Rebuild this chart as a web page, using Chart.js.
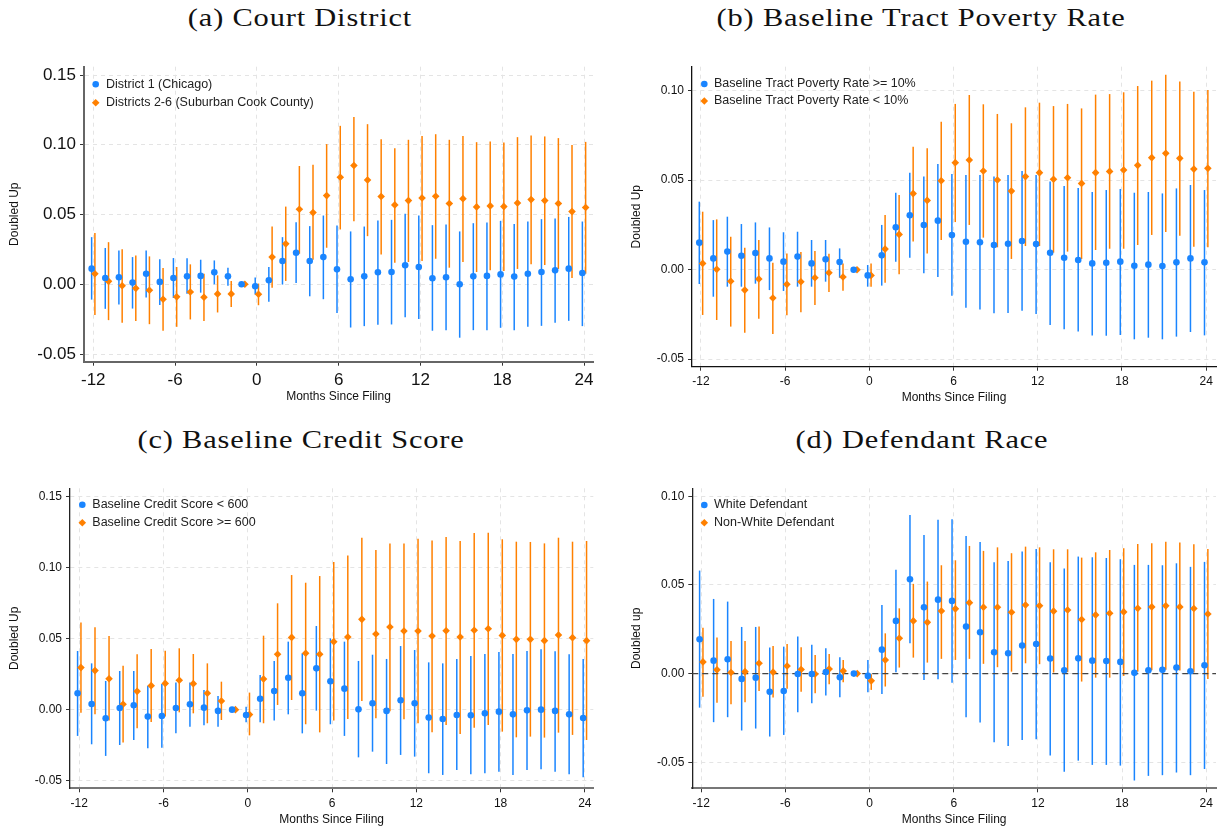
<!DOCTYPE html>
<html>
<head>
<meta charset="utf-8">
<script src="https://cdn.jsdelivr.net/npm/chart.js@4.4.1/dist/chart.umd.min.js"></script>
<style>
    body { margin: 0; background: #fff; width: 1225px; height: 831px; position: relative; overflow: hidden; }
    .panel-title { position: absolute; font-family: 'Liberation Serif', serif; font-size: 26px; line-height: 30px; letter-spacing: 0.7px; color: #111; transform: translateX(-50%) scaleX(1.17); white-space: nowrap; }
    canvas { position: absolute; }
</style>
</head>
<body>
<div class="panel-title" style="left:300px; top:3px;">(a) Court District</div>
<div class="panel-title" style="left:921px; top:3px;">(b) Baseline Tract Poverty Rate</div>
<div class="panel-title" style="left:301px; top:425px;">(c) Baseline Credit Score</div>
<div class="panel-title" style="left:922px; top:425px;">(d) Defendant Race</div>

<canvas id="chartA" style="left:0; top:40px;" width="612" height="370"></canvas>
<canvas id="chartB" style="left:612px; top:40px;" width="613" height="370"></canvas>
<canvas id="chartC" style="left:0; top:460px;" width="612" height="371"></canvas>
<canvas id="chartD" style="left:612px; top:460px;" width="613" height="371"></canvas>

<script>
// Months relative to filing
const months = [-12, -11, -10, -9, -8, -7, -6, -5, -4, -3, -2, -1, 0, 1, 2, 3, 4, 5, 6, 7, 8, 9, 10, 11, 12,
    13, 14, 15, 16, 17, 18, 19, 20, 21, 22, 23, 24];
const xTicks = [-12, -6, 0, 6, 12, 18, 24];
const yTicksWide = [-0.05, 0, 0.05, 0.10, 0.15];
const yTicksNarrow = [-0.05, 0, 0.05, 0.10];

// (a) Court District
const aChicago = [0.0112, 0.0045, 0.005, 0.0012, 0.0076, 0.0017, 0.0045, 0.0057, 0.006, 0.0086, 0.0057, 0, -0.0014, 0.0029, 0.0167, 0.0226, 0.0167, 0.0195, 0.0107, 0.0036, 0.0057, 0.0086, 0.0088, 0.0136, 0.0124, 0.0043, 0.005, 0.0, 0.0057, 0.006, 0.0071, 0.0055, 0.0076, 0.0088, 0.01, 0.0112, 0.0081];
const aChicagoLo = [-0.011, -0.0176, -0.0145, -0.0174, -0.0095, -0.0148, -0.0098, -0.0067, -0.006, 0, -0.001, null, -0.0074, -0.0126, -0.0002, 0.001, -0.0086, -0.0107, -0.0205, -0.031, -0.030, -0.029, -0.0288, -0.0236, -0.0248, -0.0333, -0.0329, -0.0383, -0.0329, -0.0329, -0.0312, -0.0329, -0.0305, -0.0298, -0.0276, -0.0262, -0.030];
const aChicagoHi = [0.0338, 0.026, 0.0243, 0.0195, 0.0243, 0.0179, 0.0188, 0.0186, 0.0176, 0.0171, 0.0119, null, 0.0048, 0.0124, 0.0338, 0.0445, 0.0417, 0.0493, 0.0421, 0.0379, 0.0414, 0.0457, 0.0462, 0.0505, 0.0493, 0.0424, 0.0429, 0.0379, 0.0438, 0.0443, 0.0455, 0.0433, 0.045, 0.0467, 0.0471, 0.0483, 0.045];
const aSuburb = [0.0076, 0.0021, -0.001, -0.0029, -0.0043, -0.0107, -0.009, -0.0055, -0.0093, -0.0069, -0.0069, 0, -0.0071, 0.0195, 0.029, 0.0538, 0.0514, 0.0636, 0.0767, 0.0852, 0.0748, 0.0629, 0.0569, 0.06, 0.0619, 0.0631, 0.0579, 0.0614, 0.0555, 0.0562, 0.0557, 0.0583, 0.0607, 0.06, 0.0579, 0.0521, 0.055];
const aSuburbLo = [-0.0221, -0.0257, -0.0276, -0.0264, -0.0286, -0.0333, -0.0305, -0.0252, -0.0264, -0.0202, -0.0162, null, -0.015, -0.0024, 0.0024, 0.0219, 0.0176, 0.0262, 0.0393, 0.0452, 0.0345, 0.0214, 0.0155, 0.016, 0.0167, 0.0183, 0.0119, 0.016, 0.0088, 0.01, 0.0095, 0.011, 0.0143, 0.0138, 0.011, 0.0045, 0.0076];
const aSuburbHi = [0.0367, 0.0302, 0.0252, 0.0207, 0.02, 0.0117, 0.0124, 0.0143, 0.0076, 0.0064, 0.0024, null, 0.0005, 0.0414, 0.0557, 0.0848, 0.0857, 0.1005, 0.1136, 0.12, 0.1148, 0.104, 0.0976, 0.1036, 0.1064, 0.1076, 0.1036, 0.1064, 0.1019, 0.1024, 0.1017, 0.1055, 0.1067, 0.106, 0.1048, 0.0998, 0.1021];

// (b) Baseline Tract Poverty Rate
const bHigh = [0.0151, 0.0063, 0.0101, 0.0078, 0.0093, 0.0063, 0.0045, 0.0073, 0.0035, 0.0058, 0.0043, 0, -0.0032, 0.008, 0.0237, 0.0304, 0.025, 0.0274, 0.0194, 0.0156, 0.0153, 0.0138, 0.0145, 0.016, 0.0143, 0.0095, 0.0067, 0.0054, 0.0035, 0.0039, 0.0045, 0.0022, 0.0028, 0.002, 0.0041, 0.0063, 0.0041];
const bHighLo = [-0.008, -0.0151, -0.0095, -0.0095, -0.0078, -0.0114, -0.0119, -0.0095, -0.0095, -0.0067, -0.0045, null, -0.0095, -0.0089, 0.0045, 0.0067, -0.002, -0.0041, -0.0145, -0.0212, -0.0223, -0.0244, -0.0242, -0.0229, -0.0248, -0.0309, -0.0333, -0.0346, -0.0367, -0.0369, -0.0365, -0.0389, -0.038, -0.0389, -0.0374, -0.0348, -0.0367];
const bHighHi = [0.038, 0.0277, 0.0296, 0.0255, 0.0264, 0.0236, 0.0209, 0.0212, 0.0166, 0.0166, 0.0119, null, 0.0026, 0.025, 0.043, 0.0542, 0.052, 0.059, 0.0534, 0.0529, 0.0529, 0.052, 0.0529, 0.0551, 0.0529, 0.0493, 0.0467, 0.0456, 0.0434, 0.0445, 0.0451, 0.043, 0.0434, 0.0426, 0.0454, 0.0473, 0.0445];
const bLow = [0.0035, 0.0002, -0.0065, -0.0114, -0.0052, -0.0158, -0.0082, -0.0067, -0.0045, -0.0017, -0.0041, 0, -0.0032, 0.0115, 0.0197, 0.0425, 0.0387, 0.0497, 0.0598, 0.0613, 0.0551, 0.0501, 0.0439, 0.052, 0.0542, 0.0505, 0.0514, 0.0482, 0.0542, 0.0549, 0.0557, 0.0583, 0.0626, 0.065, 0.0622, 0.0562, 0.0566];
const bLowLo = [-0.0253, -0.0281, -0.0318, -0.0352, -0.0274, -0.0359, -0.0255, -0.0238, -0.0197, -0.0125, -0.0117, null, -0.0095, -0.0073, -0.0026, 0.0158, 0.0091, 0.0166, 0.0266, 0.025, 0.0179, 0.0125, 0.006, 0.0132, 0.0132, 0.0095, 0.0101, 0.006, 0.011, 0.0117, 0.0117, 0.0138, 0.0194, 0.021, 0.019, 0.0128, 0.0125];
const bLowHi = [0.0324, 0.0281, 0.0184, 0.0123, 0.0166, 0.0039, 0.0091, 0.0099, 0.0104, 0.0089, 0.0035, null, 0.0035, 0.0305, 0.0417, 0.0687, 0.0678, 0.0827, 0.0926, 0.0976, 0.0924, 0.087, 0.0818, 0.0907, 0.0933, 0.0914, 0.0926, 0.0901, 0.0978, 0.0981, 0.0991, 0.1026, 0.1056, 0.1089, 0.1052, 0.0994, 0.1004];

// (c) Baseline Credit Score
const cLow = [0.0115, 0.004, -0.0061, 0.0012, 0.0031, -0.0049, -0.0045, 0.0012, 0.0038, 0.0014, -0.0009, 0, -0.0038, 0.0077, 0.0131, 0.0225, 0.0115, 0.0291, 0.02, 0.0148, 0.0002, 0.0045, -0.0009, 0.0066, 0.0045, -0.0056, -0.0066, -0.0038, -0.004, -0.0026, -0.0014, -0.0033, -0.0005, 0, -0.0009, -0.0033, -0.0059];
const cLowLo = [-0.0185, -0.0244, -0.0326, -0.0249, -0.0214, -0.0272, -0.0268, -0.0167, -0.012, -0.011, -0.012, null, -0.0089, -0.0089, -0.0077, -0.0033, -0.0167, -0.0007, -0.0103, -0.0185, -0.0336, -0.0296, -0.0383, -0.0319, -0.0331, -0.0448, -0.046, -0.0425, -0.0455, -0.0448, -0.0437, -0.046, -0.0425, -0.042, -0.0437, -0.0455, -0.0477];
const cLowHi = [0.0413, 0.0326, 0.0202, 0.0272, 0.0272, 0.0169, 0.0181, 0.0192, 0.0192, 0.0138, 0.0096, null, 0.0021, 0.0244, 0.0343, 0.0479, 0.0397, 0.0589, 0.0502, 0.0479, 0.0343, 0.0387, 0.0357, 0.0448, 0.042, 0.0333, 0.0326, 0.0357, 0.0378, 0.0392, 0.0406, 0.0392, 0.0413, 0.0425, 0.0411, 0.039, 0.0357];
const cHigh = [0.0296, 0.0275, 0.0218, 0.0038, 0.0129, 0.0169, 0.0185, 0.0207, 0.0183, 0.0115, 0.0061, 0, -0.0035, 0.0216, 0.039, 0.0509, 0.0397, 0.039, 0.0479, 0.0512, 0.0636, 0.0533, 0.0582, 0.0554, 0.0554, 0.0519, 0.0556, 0.0512, 0.0559, 0.057, 0.0523, 0.0495, 0.0495, 0.0486, 0.0526, 0.0507, 0.0486];
const cHighLo = [-0.0021, -0.0033, -0.0077, -0.0232, -0.0131, -0.0087, -0.0049, -0.0019, -0.0026, -0.0096, -0.0073, null, -0.0181, -0.0096, 0.0033, 0.0068, -0.0103, -0.016, -0.0077, -0.0066, 0.0061, -0.0061, -0.0012, -0.0068, -0.0096, -0.016, -0.0108, -0.0171, -0.0127, -0.0108, -0.0155, -0.0195, -0.019, -0.0197, -0.0162, -0.0178, -0.0214];
const cHighHi = [0.0613, 0.058, 0.0519, 0.031, 0.039, 0.0427, 0.0415, 0.0432, 0.0392, 0.0326, 0.0197, null, 0.012, 0.0521, 0.0749, 0.0948, 0.0894, 0.0941, 0.104, 0.1085, 0.1211, 0.1124, 0.1171, 0.1171, 0.1204, 0.1192, 0.1216, 0.1188, 0.1244, 0.1246, 0.12, 0.1183, 0.1181, 0.1171, 0.1211, 0.1183, 0.1188];

// (d) Defendant Race
const dWhite = [0.0194, 0.0073, 0.0081, -0.003, -0.0023, -0.0103, -0.0098, -0.0002, -0.0002, 0.0009, -0.0021, 0, -0.0013, 0.0135, 0.0297, 0.0532, 0.0374, 0.0417, 0.041, 0.0265, 0.0233, 0.012, 0.0115, 0.0158, 0.0167, 0.0085, 0.0019, 0.0086, 0.0073, 0.0071, 0.0066, 0.0004, 0.0019, 0.0021, 0.0034, 0.0013, 0.0047];
const dWhiteLo = [-0.0192, -0.0274, -0.0246, -0.0321, -0.031, -0.0355, -0.0346, -0.0218, -0.0167, -0.0124, -0.0133, null, -0.0105, -0.0115, 0.0008, 0.0171, -0.0036, -0.0032, -0.0051, -0.0246, -0.0276, -0.0387, -0.0408, -0.0374, -0.037, -0.0462, -0.0553, -0.0491, -0.0515, -0.0515, -0.0519, -0.0603, -0.0577, -0.0573, -0.0558, -0.0573, -0.0538];
const dWhiteHi = [0.0581, 0.0421, 0.0406, 0.0263, 0.0263, 0.0147, 0.0152, 0.0209, 0.0162, 0.0143, 0.0092, null, 0.0077, 0.0387, 0.0585, 0.0895, 0.0782, 0.0867, 0.087, 0.0776, 0.0742, 0.0628, 0.0635, 0.0688, 0.0703, 0.0628, 0.0592, 0.066, 0.0656, 0.0652, 0.0645, 0.0613, 0.0613, 0.0611, 0.0622, 0.0602, 0.063];
const dNonWhite = [0.0066, 0.0021, 0.0006, 0.0011, 0.0058, 0.0008, 0.0043, 0.0023, -0.0002, 0.0026, 0.0015, 0, -0.0041, 0.0077, 0.0199, 0.0297, 0.0289, 0.0353, 0.0365, 0.04, 0.0374, 0.0374, 0.0346, 0.0387, 0.0383, 0.0352, 0.0359, 0.0305, 0.0331, 0.034, 0.0348, 0.0368, 0.0376, 0.0382, 0.0376, 0.0367, 0.0336];
const dNonWhiteLo = [-0.013, -0.0164, -0.0173, -0.0162, -0.0098, -0.0135, -0.0086, -0.0103, -0.0111, -0.006, -0.0049, null, -0.0092, -0.0073, 0.0034, 0.009, 0.0062, 0.0083, 0.0077, 0.0083, 0.0055, 0.0036, 0.0011, 0.0058, 0.0053, 0.0006, 0.0008, -0.0045, -0.0023, -0.0023, -0.0013, 0.0011, 0.0019, 0.0021, 0.0017, 0.0006, -0.003];
const dNonWhiteHi = [0.0259, 0.0203, 0.0184, 0.0184, 0.0265, 0.0156, 0.0167, 0.0148, 0.0105, 0.0111, 0.0077, null, -0.0004, 0.0227, 0.0368, 0.0506, 0.0519, 0.0611, 0.0639, 0.072, 0.0692, 0.0712, 0.0679, 0.0716, 0.0712, 0.0701, 0.0701, 0.0654, 0.0684, 0.0697, 0.0707, 0.0731, 0.0735, 0.0744, 0.0739, 0.0729, 0.0703];

const BLUE = '#1a85ff';
const ORANGE = '#ff8000';
const SANS = "'Liberation Sans', Arial, sans-serif";

// Vertical confidence intervals, drawn under the markers
const errorBars = {
    id: 'errorBars',
    beforeDatasetsDraw(chart) {
        const { ctx, scales: { x, y } } = chart;
        ctx.save();
        ctx.lineWidth = 1.5;
        chart.data.datasets.forEach(ds => {
            ctx.strokeStyle = ds.backgroundColor;
            ds.data.forEach((p, i) => {
                if (ds.lo[i] == null) return;
                const px = x.getPixelForValue(p.x);
                ctx.beginPath();
                ctx.moveTo(px, y.getPixelForValue(ds.lo[i]));
                ctx.lineTo(px, y.getPixelForValue(ds.hi[i]));
                ctx.stroke();
            });
        });
        ctx.restore();
    }
};

// Dashed reference line at zero (panel d only)
const zeroLine = {
    id: 'zeroLine',
    beforeDatasetsDraw(chart, args, opts) {
        if (!opts.show) return;
        const { ctx, chartArea, scales: { y } } = chart;
        const py = y.getPixelForValue(0);
        ctx.save();
        ctx.strokeStyle = '#444';
        ctx.lineWidth = 1.3;
        ctx.setLineDash([6, 4]);
        ctx.beginPath();
        ctx.moveTo(chartArea.left, py);
        ctx.lineTo(chartArea.right, py);
        ctx.stroke();
        ctx.restore();
    }
};

// Legend drawn inside the plot, top-left
const insideLegend = {
    id: 'insideLegend',
    afterDraw(chart, args, opts) {
        const { ctx, chartArea } = chart;
        ctx.save();
        ctx.font = `12.5px ${SANS}`;
        ctx.textBaseline = 'middle';
        chart.data.datasets.forEach((ds, i) => {
            const cx = chartArea.left + opts.dx;
            const cy = chartArea.top + opts.dy + i * opts.rowGap;
            ctx.fillStyle = ds.backgroundColor;
            Chart.helpers.drawPoint(ctx, { pointStyle: ds.pointStyle, radius: ds.pointRadius, borderWidth: 0 }, cx, cy);
            ctx.fillStyle = '#222';
            ctx.fillText(ds.label, cx + opts.textGap, cy);
        });
        ctx.restore();
    }
};

function makePanel(canvasId, p) {
    const series = [
        { label: p.labels[0], values: p.blue, lo: p.blueLo, hi: p.blueHi, color: BLUE, style: 'circle', radius: 3.3, shift: -0.12 },
        { label: p.labels[1], values: p.orange, lo: p.orangeLo, hi: p.orangeHi, color: ORANGE, style: 'rectRot', radius: 3.8, shift: 0.12 }
    ];
    return new Chart(document.getElementById(canvasId), {
        type: 'scatter',
        data: {
            datasets: series.map(s => ({
                label: s.label,
                data: months.map((m, i) => ({ x: m + s.shift, y: s.values[i] })),
                lo: s.lo,
                hi: s.hi,
                backgroundColor: s.color,
                pointStyle: s.style,
                pointRadius: s.radius,
                pointBorderWidth: 0,
                borderWidth: 0
            }))
        },
        options: {
            responsive: false,
            animation: false,
            events: [],
            layout: { padding: { top: p.padTop, right: p.padRight, left: 0, bottom: 0 } },
            plugins: {
                legend: { display: false },
                tooltip: { enabled: false },
                zeroLine: { show: !!p.zeroLine },
                insideLegend: p.legend
            },
            scales: {
                x: {
                    type: 'linear',
                    min: p.xMin,
                    max: p.xMax,
                    afterBuildTicks: s => { s.ticks = xTicks.map(v => ({ value: v })); },
                    afterFit: s => { s.height = p.xAxisH; },
                    ticks: { font: { family: SANS, size: p.tickSize }, color: '#111', padding: 4, maxRotation: 0, autoSkip: false, callback: v => String(v) },
                    grid: { color: '#e4e4e4', lineWidth: 1, tickLength: 4, tickColor: '#333', tickBorderDash: [] },
                    border: { color: p.xBorder[0], width: p.xBorder[1], dash: [4, 4] },
                    title: { display: true, text: 'Months Since Filing', font: { family: SANS, size: 12 }, color: '#111', padding: { top: 0, bottom: p.xTitlePad } }
                },
                y: {
                    type: 'linear',
                    min: p.yMin,
                    max: p.yMax,
                    afterBuildTicks: s => { s.ticks = p.yTicks.map(v => ({ value: v })); },
                    afterFit: s => { s.width = p.yAxisW; },
                    ticks: { font: { family: SANS, size: p.tickSize }, color: '#111', padding: 4, autoSkip: false, callback: v => v.toFixed(2) },
                    grid: { color: '#e4e4e4', lineWidth: 1, tickLength: 4, tickColor: '#333', tickBorderDash: [] },
                    border: { color: p.yBorder[0], width: p.yBorder[1], dash: [4, 4] },
                    title: { display: true, text: p.yTitle, font: { family: SANS, size: 12 }, color: '#111', padding: { top: p.yTitlePad, bottom: 0 } }
                }
            }
        },
        plugins: [errorBars, zeroLine, insideLegend]
    });
}

makePanel('chartA', {
    labels: ['District 1 (Chicago)', 'Districts 2-6 (Suburban Cook County)'],
    blue: aChicago, blueLo: aChicagoLo, blueHi: aChicagoHi,
    orange: aSuburb, orangeLo: aSuburbLo, orangeHi: aSuburbHi,
    xMin: -12.68, xMax: 24.66, yMin: -0.0555, yMax: 0.156, yTicks: yTicksWide,
    padTop: 26.7, padRight: 19, yAxisW: 84, xAxisH: 48.3,
    tickSize: 17, xTitlePad: 5.8, yTitlePad: 7.8, yTitle: 'Doubled Up',
    xBorder: ['#666', 2], yBorder: ['#666', 2],
    legend: { dx: 11.7, dy: 17.6, rowGap: 18.4, textGap: 10.3 }
});

makePanel('chartB', {
    labels: ['Baseline Tract Poverty Rate >= 10%', 'Baseline Tract Poverty Rate < 10%'],
    blue: bHigh, blueLo: bHighLo, blueHi: bHighHi,
    orange: bLow, orangeLo: bLowLo, orangeHi: bLowHi,
    xMin: -12.64, xMax: 24.7, yMin: -0.0542, yMax: 0.1134, yTicks: yTicksNarrow,
    padTop: 26.7, padRight: 9, yAxisW: 80, xAxisH: 43.3,
    tickSize: 12, xTitlePad: 5.5, yTitlePad: 17.8, yTitle: 'Doubled Up',
    xBorder: ['#111', 1.3], yBorder: ['#111', 1.3],
    legend: { dx: 12.3, dy: 17.3, rowGap: 17, textGap: 9.7 }
});

makePanel('chartC', {
    labels: ['Baseline Credit Score < 600', 'Baseline Credit Score >= 600'],
    blue: cLow, blueLo: cLowLo, blueHi: cLowHi,
    orange: cHigh, orangeLo: cHighLo, orangeHi: cHighHi,
    xMin: -12.66, xMax: 24.6, yMin: -0.0554, yMax: 0.1559, yTicks: yTicksWide,
    padTop: 28.3, padRight: 18.7, yAxisW: 70, xAxisH: 42.7,
    tickSize: 12, xTitlePad: 3.8, yTitlePad: 7.8, yTitle: 'Doubled Up',
    xBorder: ['#777', 2], yBorder: ['#222', 1.3],
    legend: { dx: 12.3, dy: 16.4, rowGap: 18, textGap: 10 }
});

makePanel('chartD', {
    labels: ['White Defendant', 'Non-White Defendant'],
    blue: dWhite, blueLo: dWhiteLo, blueHi: dWhiteHi,
    orange: dNonWhite, orangeLo: dNonWhiteLo, orangeHi: dNonWhiteHi,
    xMin: -12.64, xMax: 24.7, yMin: -0.0647, yMax: 0.1045, yTicks: yTicksNarrow,
    padTop: 28.3, padRight: 9, yAxisW: 80.3, xAxisH: 42.7,
    tickSize: 12, xTitlePad: 3.8, yTitlePad: 17.5, yTitle: 'Doubled up',
    xBorder: ['#777', 2], yBorder: ['#222', 1.3],
    legend: { dx: 12, dy: 16.7, rowGap: 17.7, textGap: 9.7 },
    zeroLine: true
});
</script>
</body>
</html>
